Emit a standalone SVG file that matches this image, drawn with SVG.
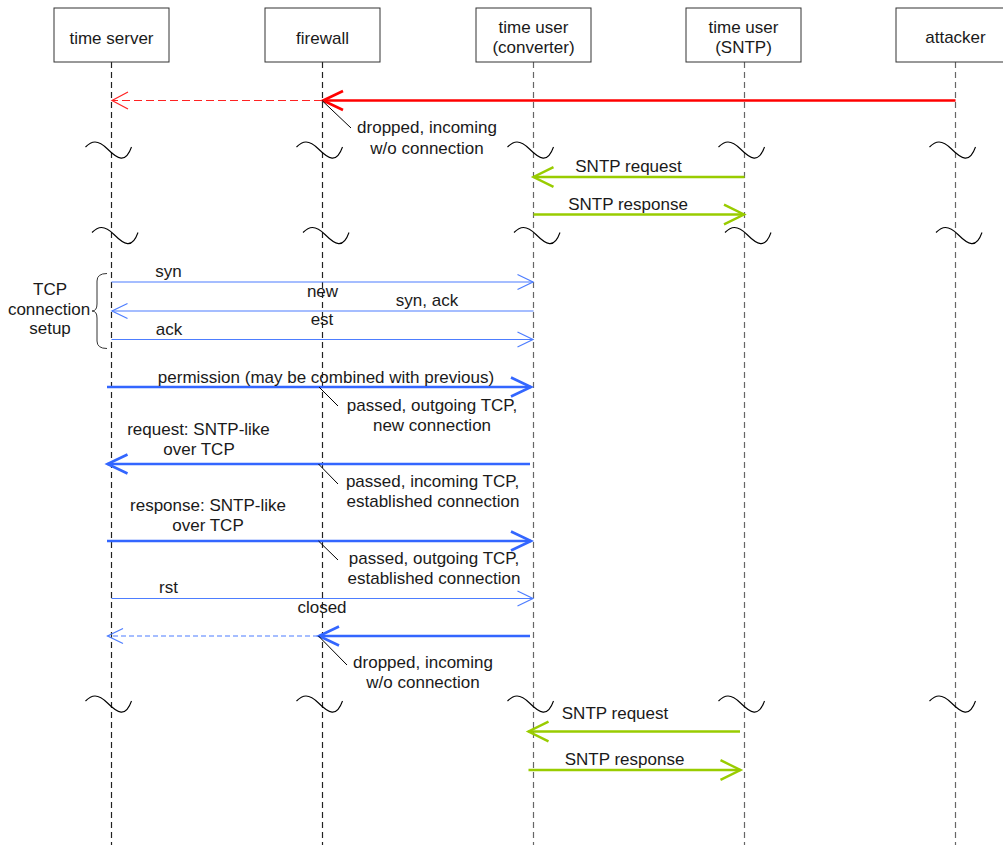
<svg xmlns="http://www.w3.org/2000/svg" width="1003" height="845" viewBox="0 0 1003 845">
<style>
  text { font-family: "Liberation Sans", Arial, sans-serif; font-size: 17px; fill: #1a1a1a; }
  .c { text-anchor: middle; }
  .box { fill: #fff; stroke: #333; stroke-width: 1; }
  .life { stroke: #222; stroke-width: 1.2; stroke-dasharray: 6 4; fill: none; }
  .life2 { stroke: #666; stroke-width: 1.2; stroke-dasharray: 6 4; fill: none; }
  .tilde { fill: none; stroke: #000; stroke-width: 1.1; }
  .lead { stroke: #000; stroke-width: 1; fill: none; }
  .red { stroke: #ff0000; stroke-width: 2.6; fill: none; marker-end: url(#mRedBig); }
  .redd { stroke: #ff2222; stroke-width: 1.2; stroke-dasharray: 8 4; fill: none; marker-end: url(#mRedSmall); }
  .green { stroke: #99cc00; stroke-width: 2.4; fill: none; marker-end: url(#mGreen); }
  .blue { stroke: #3366ff; stroke-width: 2.6; fill: none; marker-end: url(#mBlueBig); }
  .bluet { stroke: #4d7dff; stroke-width: 1.2; fill: none; marker-end: url(#mBlueSmall); }
  .blued { stroke: #4d7dff; stroke-width: 1.2; stroke-dasharray: 5 3; fill: none; marker-end: url(#mBlueSmall); }
</style>
<defs>
  <marker id="mRedBig" markerUnits="userSpaceOnUse" viewBox="-24 -12 28 24" markerWidth="28" markerHeight="24" refX="0" refY="0" orient="auto" overflow="visible">
    <path d="M -20 -9.5 L 0 0 L -20 9.5" fill="none" stroke="#ff0000" stroke-width="2.6"/>
  </marker>
  <marker id="mRedSmall" markerUnits="userSpaceOnUse" viewBox="-20 -10 24 20" markerWidth="24" markerHeight="20" refX="0" refY="0" orient="auto" overflow="visible">
    <path d="M -16 -8.5 L 0 0 L -16 8.5" fill="none" stroke="#ff2222" stroke-width="1.2"/>
  </marker>
  <marker id="mGreen" markerUnits="userSpaceOnUse" viewBox="-24 -12 28 24" markerWidth="28" markerHeight="24" refX="0" refY="0" orient="auto" overflow="visible">
    <path d="M -20 -9.8 L 0 0 L -20 9.8" fill="none" stroke="#99cc00" stroke-width="2.4"/>
  </marker>
  <marker id="mBlueBig" markerUnits="userSpaceOnUse" viewBox="-24 -12 28 24" markerWidth="28" markerHeight="24" refX="0" refY="0" orient="auto" overflow="visible">
    <path d="M -20 -9.5 L 0 0 L -20 9.5" fill="none" stroke="#3366ff" stroke-width="2.6"/>
  </marker>
  <marker id="mBlueSmall" markerUnits="userSpaceOnUse" viewBox="-20 -10 24 20" markerWidth="24" markerHeight="20" refX="0" refY="0" orient="auto" overflow="visible">
    <path d="M -15.5 -7.5 L 0 0 L -15.5 7.5" fill="none" stroke="#4d7dff" stroke-width="1.2"/>
  </marker>
  <path id="tl" d="M -26 -3 C -20 -9 -14 -11 -4 -1 S 14 14 20 -3"/>
</defs>

<rect width="1003" height="845" fill="#fff"/>

<g id="lifelines">
  <line class="life" x1="111.5" y1="62" x2="111.5" y2="845"/>
  <line class="life" x1="322.5" y1="62" x2="322.5" y2="845"/>
  <line class="life2" x1="533.5" y1="62" x2="533.5" y2="845"/>
  <line class="life2" x1="744.5" y1="62" x2="744.5" y2="845"/>
  <line class="life2" x1="955.5" y1="62" x2="955.5" y2="845"/>
</g>

<g id="node-time-server">
  <rect class="box" x="54" y="8" width="115" height="54"/>
  <text class="c" x="111.5" y="43.5">time server</text>
</g>
<g id="node-firewall">
  <rect class="box" x="265" y="8" width="115" height="54"/>
  <text class="c" x="322.5" y="43.5">firewall</text>
</g>
<g id="node-converter">
  <rect class="box" x="476" y="8" width="115" height="54"/>
  <text class="c" x="533.5" y="33">time user</text>
  <text class="c" x="533.5" y="52.5">(converter)</text>
</g>
<g id="node-sntp">
  <rect class="box" x="686" y="8" width="115" height="54"/>
  <text class="c" x="743.5" y="33">time user</text>
  <text class="c" x="743.5" y="52.5">(SNTP)</text>
</g>
<g id="node-attacker">
  <rect class="box" x="896" y="8" width="115" height="54"/>
  <text class="c" x="955.5" y="43">attacker</text>
</g>

<g id="breaks" class="tilde">
  <use href="#tl" x="111.5" y="150"/>
  <use href="#tl" x="322.5" y="150"/>
  <use href="#tl" x="533.5" y="150"/>
  <use href="#tl" x="744.5" y="150"/>
  <use href="#tl" x="955.5" y="150"/>
  <use href="#tl" x="118" y="235.5"/>
  <use href="#tl" x="329" y="235.5"/>
  <use href="#tl" x="540" y="235.5"/>
  <use href="#tl" x="751" y="235.5"/>
  <use href="#tl" x="962" y="235.5"/>
  <use href="#tl" x="111.5" y="704"/>
  <use href="#tl" x="322.5" y="704"/>
  <use href="#tl" x="533.5" y="704"/>
  <use href="#tl" x="744.5" y="704"/>
  <use href="#tl" x="955.5" y="704"/>
</g>

<g id="tcp-setup-brace">
  <path d="M 107 273.5 Q 97 273.5 97 281 L 97 304 Q 97 311 92 311 Q 97 311 97 318 L 97 341 Q 97 348.5 107 348.5" fill="none" stroke="#333" stroke-width="1"/>
  <text class="c" x="50" y="295">TCP</text>
  <text class="c" x="49" y="315">connection</text>
  <text class="c" x="50" y="334">setup</text>
</g>

<g id="connectors">
  <line class="red" x1="955.5" y1="100.5" x2="323" y2="100.5"/>
  <line class="redd" x1="322" y1="100.5" x2="112" y2="100.5"/>

  <line class="green" x1="744.5" y1="177" x2="533.5" y2="177"/>
  <line class="green" x1="533.5" y1="214.5" x2="744" y2="214.5"/>

  <line class="bluet" x1="111.5" y1="282" x2="533" y2="282"/>
  <line class="bluet" x1="533.5" y1="311" x2="112" y2="311"/>
  <line class="bluet" x1="111.5" y1="339.5" x2="533" y2="339.5"/>

  <line class="blue" x1="107" y1="387" x2="531" y2="387"/>
  <line class="blue" x1="530" y1="464" x2="107.5" y2="464"/>
  <line class="blue" x1="107" y1="541" x2="531" y2="541"/>

  <line class="bluet" x1="111.5" y1="598.5" x2="533" y2="598.5"/>
  <line class="blue" x1="530" y1="636" x2="319" y2="636"/>
  <line class="blued" x1="318" y1="636" x2="107.5" y2="636"/>

  <line class="green" x1="740" y1="731.5" x2="528.5" y2="731.5"/>
  <line class="green" x1="528.5" y1="770" x2="740.5" y2="770"/>
</g>

<g id="labels">
  <text class="c" x="628.5" y="172">SNTP request</text>
  <text class="c" x="628" y="210">SNTP response</text>

  <text class="c" x="168.5" y="277">syn</text>
  <text class="c" x="322.5" y="297">new</text>
  <text class="c" x="427" y="305.5">syn, ack</text>
  <text class="c" x="322" y="325">est</text>
  <text class="c" x="169" y="335">ack</text>

  <text class="c" x="326" y="382.5">permission (may be combined with previous)</text>
  <text class="c" x="198.5" y="435">request: SNTP-like</text>
  <text class="c" x="199" y="455">over TCP</text>
  <text class="c" x="208" y="511">response: SNTP-like</text>
  <text class="c" x="208" y="531">over TCP</text>

  <text class="c" x="168.5" y="593">rst</text>
  <text class="c" x="322" y="612.5">closed</text>

  <text class="c" x="615" y="718.5">SNTP request</text>
  <text class="c" x="624.5" y="765">SNTP response</text>
</g>

<g id="firewall-notes">
  <line class="lead" x1="322" y1="100.5" x2="351" y2="128"/>
  <text class="c" x="427" y="133">dropped, incoming</text>
  <text class="c" x="427" y="153.5">w/o connection</text>

  <line class="lead" x1="319" y1="387" x2="338" y2="406"/>
  <text class="c" x="432" y="411">passed, outgoing TCP,</text>
  <text class="c" x="432" y="431">new connection</text>

  <line class="lead" x1="318.5" y1="464" x2="338" y2="484"/>
  <text class="c" x="432.5" y="487">passed, incoming TCP,</text>
  <text class="c" x="433" y="507">established connection</text>

  <line class="lead" x1="318.5" y1="541" x2="338" y2="560"/>
  <text class="c" x="434" y="564">passed, outgoing TCP,</text>
  <text class="c" x="434" y="584">established connection</text>

  <line class="lead" x1="318.5" y1="636" x2="347" y2="665"/>
  <text class="c" x="423" y="668">dropped, incoming</text>
  <text class="c" x="423" y="688">w/o connection</text>
</g>
</svg>
